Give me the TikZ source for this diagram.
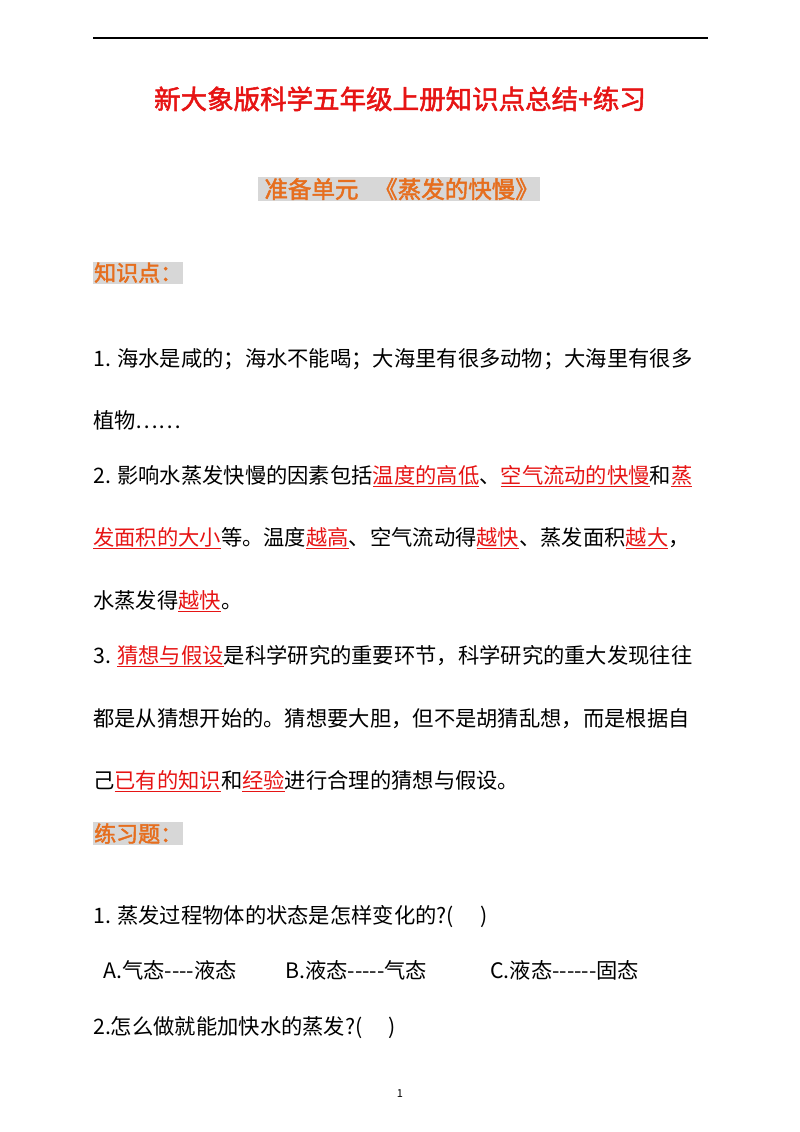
\documentclass[tikz,border=0pt]{standalone}
\usepackage{fontspec}
\setmainfont{Noto Sans CJK SC}[AutoFakeBold=2]
\definecolor{tred}{RGB}{230,20,20}
\definecolor{torange}{RGB}{230,110,30}
\definecolor{hlgray}{RGB}{215,215,215}
\newcommand{\rl}[1]{\textcolor{tred}{\underline{#1}}}
\newcommand{\hy}{{-}}
\begin{document}
\begin{tikzpicture}[x=1pt,y=-1pt,
  body/.style={anchor=base west,inner sep=0pt,font=\fontsize{21.3}{21.3}\selectfont},
  head/.style={anchor=base west,inner sep=1pt,fill=hlgray,text=torange,font=\fontsize{22}{22}\selectfont\bfseries}]
\useasboundingbox (0,0) rectangle (800,1132);
\draw[line width=1.2pt] (93,38) coordinate (l1) -- (708,38) coordinate (l2);
\node[anchor=base,text=tred,font=\fontsize{26.5}{26.5}\selectfont\bfseries] (title) at (400,109) {新大象版科学五年级上册知识点总结+练习};
\node[head,font=\fontsize{23.5}{23.5}\selectfont\bfseries] (sub) at (258,198) {\ 准备单元\ \ \ 《蒸发的快慢》};
\node[head] (h1) at (93,281) {知识点：};
\node[body] (a1) at (93,366) {1. 海水是咸的；海水不能喝；大海里有很多动物；大海里有很多};
\node[body] (a2) at (93,428) {植物……};
\node[body] (a3) at (93,483) {2. 影响水蒸发快慢的因素包括\rl{温度的高低}、\rl{空气流动的快慢}和\rl{蒸}};
\node[body] (a4) at (93,545) {\rl{发面积的大小}等。温度\rl{越高}、空气流动得\rl{越快}、蒸发面积\rl{越大}，};
\node[body] (a5) at (93,608) {水蒸发得\rl{越快}。};
\node[body] (a6) at (93,663) {3. \rl{猜想与假设}是科学研究的重要环节，科学研究的重大发现往往};
\node[body] (a7) at (93,726) {都是从猜想开始的。猜想要大胆，但不是胡猜乱想，而是根据自};
\node[body] (a8) at (93,788) {己\rl{已有的知识}和\rl{经验}进行合理的猜想与假设。};
\node[head] (h2) at (93,842) {练习题：};
\node[body] (q1) at (93,923) {1. 蒸发过程物体的状态是怎样变化的?(\quad\ )};
\node[body] (qa) at (103,978) {A.气态\hy\hy\hy\hy 液态};
\node[body] (qb) at (285,978) {B.液态\hy\hy\hy\hy\hy 气态};
\node[body] (qc) at (490,978) {C.液态\hy\hy\hy\hy\hy\hy 固态};
\node[body] (q3) at (93,1034) {2.怎么做就能加快水的蒸发?(\quad\ )};
\node[anchor=base,font=\fontsize{11}{11}\selectfont] (pg) at (400,1097) {1};
\end{tikzpicture}
\end{document}
